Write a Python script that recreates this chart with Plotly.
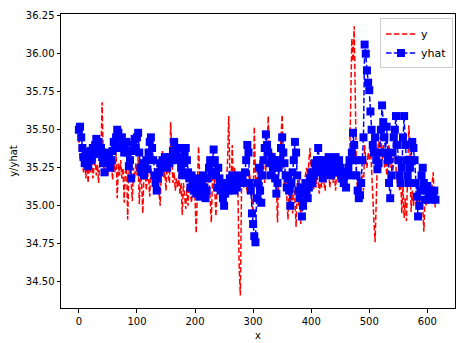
import plotly.graph_objects as go

# x positions (every 2nd sample)
x_vals = list(range(0, 615, 2))

y_vals = [
    35.45, 35.30, 35.38, 35.28, 35.22, 35.32, 35.18, 35.26, 35.15, 35.28,
    35.22, 35.30, 35.18, 35.25, 35.32, 35.20, 35.27, 35.15, 35.30, 35.35,
    35.68, 35.30, 35.22, 35.34, 35.28, 35.20, 35.32, 35.26, 35.30, 35.17,
    35.30, 35.22, 35.35, 35.05, 35.28, 35.20, 35.30, 35.18, 35.25, 35.02,
    35.22, 35.28, 34.91, 35.20, 35.30, 35.12, 35.03, 35.25, 35.18, 35.28,
    35.20, 35.32, 35.01, 35.22, 35.15, 34.95, 35.20, 35.26, 35.10, 35.22,
    35.18, 35.06, 35.25, 35.20, 35.15, 35.22, 35.12, 35.25, 35.18, 35.10,
    35.00, 35.25, 35.36, 35.18, 35.22, 35.10, 35.28, 35.20, 35.15, 35.55,
    35.30, 35.15, 35.22, 35.10, 35.18, 35.12, 35.20, 35.08, 35.15, 34.94,
    35.15, 35.05, 34.98, 35.12, 35.00, 35.15, 35.08, 35.02, 35.18, 35.10,
    35.05, 34.82, 35.15, 35.39, 35.20, 35.10, 35.18, 35.05, 35.22, 35.12,
    35.08, 35.20, 35.15, 35.05, 34.89, 35.18, 35.25, 35.10, 34.93, 35.15,
    35.22, 35.08, 35.15, 35.20, 35.10, 35.05, 35.18, 35.12, 35.30, 35.59,
    35.20, 35.10, 35.40, 35.15, 35.25, 35.10, 35.20, 35.05, 34.60, 34.41,
    35.10, 35.18, 35.12, 35.20, 35.15, 35.08, 35.18, 35.22, 35.10, 35.00,
    34.95, 35.52, 35.20, 35.10, 35.25, 35.15, 35.30, 35.18, 35.22, 35.28,
    35.15, 35.25, 35.35, 35.59, 35.30, 35.20, 35.28, 35.35, 35.25, 35.30,
    35.15, 34.89, 35.20, 35.30, 35.45, 35.60, 35.25, 35.10, 35.20, 35.05,
    34.91, 35.10, 35.00, 35.15, 34.95, 35.20, 35.05, 34.86, 35.15, 35.00,
    35.20, 34.88, 35.10, 35.15, 35.05, 35.20, 35.25, 35.10, 35.30, 35.38,
    35.15, 35.20, 35.10, 35.18, 35.12, 35.20, 35.15, 35.08, 35.18, 35.12,
    35.20, 35.15, 35.10, 35.22, 35.18, 35.25, 35.12, 35.20, 35.28, 35.15,
    35.22, 35.10, 35.25, 35.18, 35.30, 35.15, 35.20, 35.12, 35.25, 35.12,
    35.15, 35.20, 35.18, 35.25, 35.60, 36.10, 35.95, 36.18, 35.70, 35.20,
    35.10, 35.18, 35.04, 35.15, 35.20, 35.10, 35.40, 35.30, 35.25, 35.35,
    35.30, 35.40, 35.20, 35.00, 34.90, 34.76, 35.10, 35.30, 35.45, 35.35,
    35.50, 35.30, 35.40, 35.25, 35.35, 35.20, 35.30, 35.40, 35.25, 35.35,
    35.20, 35.30, 35.40, 35.25, 35.15, 35.20, 35.10, 35.20, 34.95, 35.15,
    34.92, 35.05, 34.90, 35.20, 35.53, 35.40, 34.96, 35.10, 35.00, 35.05,
    35.10, 35.00, 35.08, 35.02, 35.10, 35.05, 35.00, 34.83, 35.05, 35.00,
    35.08, 35.02, 35.10, 35.05, 35.15, 35.22, 35.05, 34.98,
]

yhat_vals = [
    35.50, 35.52, 35.45, 35.38, 35.32, 35.28, 35.35, 35.30, 35.26, 35.33,
    35.36, 35.30, 35.38, 35.34, 35.40, 35.44, 35.36, 35.42, 35.35, 35.38,
    35.32, 35.28, 35.22, 35.30, 35.35, 35.28, 35.32, 35.25, 35.30, 35.36,
    35.42, 35.38, 35.45, 35.50, 35.48, 35.42, 35.38, 35.45, 35.40, 35.35,
    35.38, 35.42, 35.35, 35.26, 35.30, 35.18, 35.36, 35.40, 35.44, 35.38,
    35.45, 35.48, 35.35, 35.25, 35.22, 35.28, 35.20, 35.26, 35.30, 35.24,
    35.35, 35.42, 35.45, 35.38, 35.30, 35.20, 35.15, 35.10, 35.18, 35.22,
    35.28, 35.25, 35.30, 35.26, 35.32, 35.28, 35.25, 35.30, 35.28, 35.32,
    35.30, 35.36, 35.42, 35.38, 35.35, 35.30, 35.38, 35.32, 35.25, 35.20,
    35.28, 35.35, 35.38, 35.30, 35.22, 35.18, 35.12, 35.20, 35.15, 35.10,
    35.15, 35.08, 35.12, 35.18, 35.06, 35.10, 35.15, 35.20, 35.12, 35.05,
    35.10, 35.18, 35.25, 35.30, 35.22, 35.28, 35.37, 35.30, 35.20, 35.12,
    35.25, 35.18, 35.10, 35.15, 35.05, 35.00, 35.08, 35.12, 35.15, 35.10,
    35.18, 35.12, 35.20, 35.15, 35.10, 35.18, 35.12, 35.15, 35.20, 35.15,
    35.15, 35.18, 35.15, 35.22, 35.30, 35.40, 35.35, 35.15, 35.10, 34.95,
    34.88, 34.80, 34.76, 35.05, 35.15, 35.25, 35.10, 35.02, 35.20, 35.30,
    35.38, 35.47, 35.40, 35.35, 35.28, 35.20, 35.32, 35.25, 35.30, 35.18,
    35.08, 35.15, 35.25, 35.30, 35.38, 35.45, 35.35, 35.28, 35.20, 35.12,
    35.18, 35.10, 35.00, 35.15, 35.22, 35.30, 35.42, 35.35, 35.20, 35.10,
    35.05, 35.12, 34.93, 35.00, 35.08, 35.15, 35.10, 35.05, 35.12, 35.18,
    35.22, 35.15, 35.20, 35.28, 35.25, 35.30, 35.38, 35.30, 35.22, 35.25,
    35.18, 35.25, 35.30, 35.22, 35.28, 35.32, 35.25, 35.20, 35.28, 35.30,
    35.25, 35.32, 35.28, 35.22, 35.30, 35.25, 35.18, 35.22, 35.15, 35.20,
    35.12, 35.22, 35.25, 35.30, 35.20, 35.35, 35.48, 35.40, 35.30, 35.20,
    35.10, 35.05, 35.07, 35.15, 35.30, 35.45, 36.06, 36.00, 35.89, 35.81,
    35.76, 35.62, 35.50, 35.40, 35.35, 35.45, 35.30, 35.24, 35.28, 35.35,
    35.50, 35.66, 35.55, 35.45, 35.35, 35.52, 35.30, 35.15, 35.05, 35.20,
    35.35, 35.45, 35.50, 35.59, 35.40, 35.30, 35.20, 35.15, 35.25, 35.45,
    35.59, 35.40, 35.30, 35.20, 35.15, 35.25, 35.30, 35.42, 35.38, 35.30,
    35.15, 35.06, 34.93, 35.00, 35.10, 35.20, 35.25, 35.15, 35.04, 35.10,
    35.13, 35.05, 35.10, 35.04, 35.08, 35.05, 35.10, 35.04,
]

x_ticks = [0, 100, 200, 300, 400, 500, 600]
y_ticks = [34.50, 34.75, 35.00, 35.25, 35.50, 35.75, 36.00, 36.25]

fig = go.Figure()
fig.add_trace(go.Scatter(
    x=x_vals, y=y_vals, name="y", mode="lines",
    line=dict(color="red", width=1.5, dash="5.5px,2.4px"),
))
fig.add_trace(go.Scatter(
    x=x_vals, y=yhat_vals, name="yhat", mode="lines+markers",
    line=dict(color="blue", width=1.5, dash="5.5px,2.4px"),
    marker=dict(symbol="square", size=8, color="blue", line=dict(width=0)),
))

axis_common = dict(
    showgrid=False, zeroline=False, showline=True, linecolor="black",
    linewidth=1, mirror=True, ticks="outside", ticklen=3.5, tickcolor="black",
    tickfont=dict(family="DejaVu Sans", size=10, color="black"),
    automargin=False,
)
fig.update_xaxes(range=[-30.8, 647.6], tickvals=x_ticks,
                 title=dict(text="x", font=dict(family="DejaVu Sans", size=10, color="black"), standoff=6),
                 **axis_common)
fig.update_yaxes(range=[34.328, 36.261], tickvals=y_ticks, tickformat=".2f",
                 title=dict(text="y/yhat", font=dict(family="DejaVu Sans", size=10, color="black"), standoff=6),
                 **axis_common)

fig.update_layout(
    width=462, height=343,
    margin=dict(l=61, r=7, t=14, b=35, autoexpand=False),
    plot_bgcolor="white", paper_bgcolor="white",
    font=dict(family="DejaVu Sans", size=10, color="black"),
    legend=dict(x=0.995, y=0.985, xanchor="right", yanchor="top",
                bgcolor="rgba(255,255,255,0.8)", bordercolor="#cccccc", borderwidth=1,
                font=dict(family="DejaVu Sans", size=11, color="black"),
                itemwidth=30, tracegroupgap=2),
    showlegend=True,
)

fig.write_html("out.html",
               config={"displayModeBar": False},
               post_script="document.body.style.margin='0';document.body.style.overflow='hidden';")
